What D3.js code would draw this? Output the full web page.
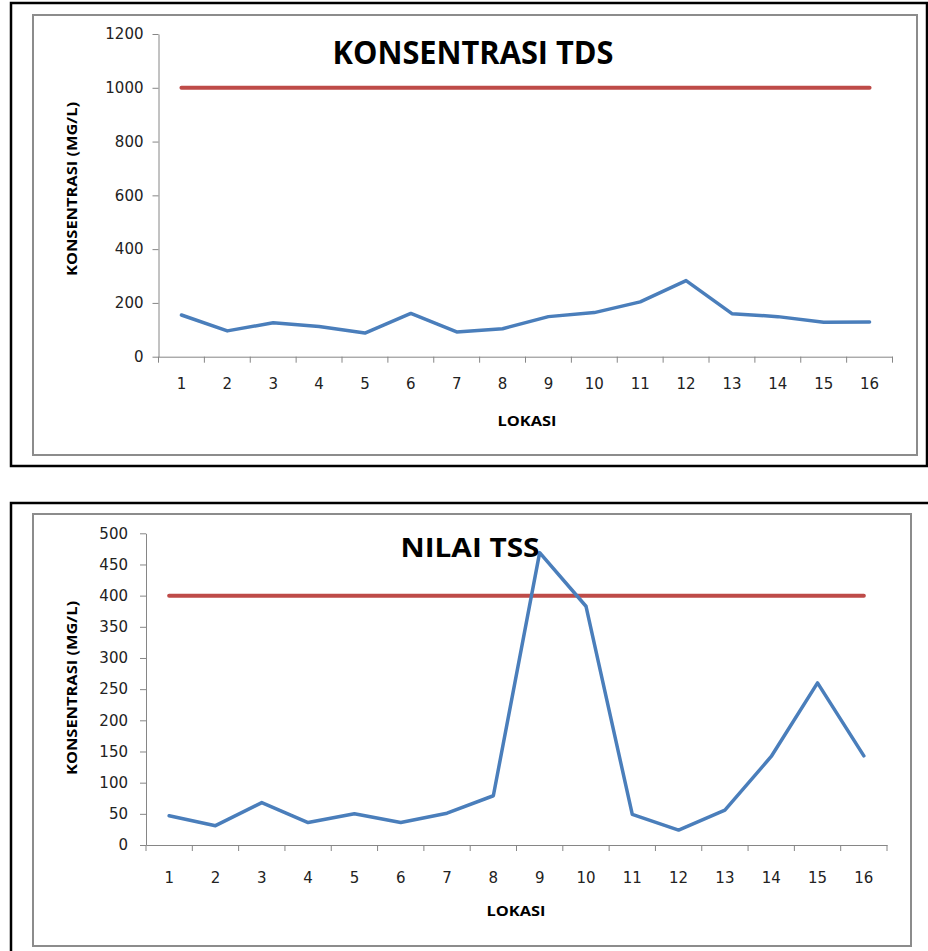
<!DOCTYPE html>
<html>
<head>
<meta charset="utf-8">
<script src="https://cdn.jsdelivr.net/npm/d3@7"></script>
<style>
  html, body { margin: 0; padding: 0; background: #fff; }
  svg { display: block; }
</style>
</head>
<body>
<svg id="chart" width="928" height="951"></svg>
<script>
// Sampling locations (x categories)
const lokasi = ["1","2","3","4","5","6","7","8","9","10","11","12","13","14","15","16"];

// TDS concentration (mg/L) per location, and the quality standard line
const tdsValues = [155, 96, 126, 112, 88, 161, 92, 104, 149, 164, 204, 283, 160, 149, 128, 129];
const tdsBakuMutu = [1000,1000,1000,1000,1000,1000,1000,1000,1000,1000,1000,1000,1000,1000,1000,1000];
const tdsTicks = [0, 200, 400, 600, 800, 1000, 1200];

// TSS value (mg/L) per location, and the quality standard line
const tssValues = [47, 31, 68, 36, 50, 36, 51, 79, 469, 383, 49, 24, 56, 142, 260, 143];
const tssBakuMutu = [400,400,400,400,400,400,400,400,400,400,400,400,400,400,400,400];
const tssTicks = [0, 50, 100, 150, 200, 250, 300, 350, 400, 450, 500];

const svg = d3.select("#chart");
const BLUE = "#4a7ebb";
const RED = "#be4b48";
const AXIS = "#868686";
const TICK_FONT = "DejaVu Sans, sans-serif";
const BOLD_FONT = "'Open Sans', Arial, sans-serif";

function drawPanel(cfg) {
  const g = svg.append("g");

  // outer black frame and inner gray chart-area frame
  g.append("rect")
    .attr("x", cfg.outer[0]).attr("y", cfg.outer[1])
    .attr("width", cfg.outer[2]).attr("height", cfg.outer[3])
    .attr("fill", "none").attr("stroke", "#000").attr("stroke-width", 2.5);
  g.append("rect")
    .attr("x", cfg.inner[0]).attr("y", cfg.inner[1])
    .attr("width", cfg.inner[2]).attr("height", cfg.inner[3])
    .attr("fill", "#fff").attr("stroke", "#8c8c8c").attr("stroke-width", 2);

  const x = d3.scaleBand().domain(lokasi).range([cfg.x0, cfg.x1]).padding(0);
  const y = d3.scaleLinear().domain([0, cfg.yMax]).range([cfg.y0, cfg.y1]);
  const cx = d => x(d) + x.bandwidth() / 2;

  // y axis
  const yAxis = g.append("g")
    .attr("transform", `translate(${cfg.x0},0)`)
    .call(d3.axisLeft(y).tickValues(cfg.ticks).tickFormat(d3.format("d"))
      .tickSize(6).tickPadding(cfg.yPad).tickSizeOuter(0));
  yAxis.select(".domain").attr("stroke", AXIS);
  yAxis.selectAll(".tick line").attr("stroke", AXIS);
  yAxis.selectAll(".tick text")
    .attr("font-family", TICK_FONT).attr("font-size", 15).attr("fill", "#222");

  // x axis: labels centred in each band, tick marks on the band edges
  const xAxis = g.append("g")
    .attr("transform", `translate(0,${cfg.y0})`)
    .call(d3.axisBottom(x).tickSize(0).tickPadding(cfg.xPad));
  xAxis.select(".domain").attr("stroke", AXIS);
  xAxis.selectAll(".tick text")
    .attr("font-family", TICK_FONT).attr("font-size", 15).attr("fill", "#222");
  const edges = lokasi.map(d => x(d)).concat([cfg.x1]);
  g.append("g").selectAll("line").data(edges).join("line")
    .attr("x1", d => d).attr("x2", d => d)
    .attr("y1", cfg.y0).attr("y2", cfg.y0 + 6)
    .attr("stroke", AXIS);

  const line = d3.line().x((d, i) => cx(lokasi[i])).y(d => y(d));

  // standard (limit) line
  g.append("path").datum(cfg.limit)
    .attr("d", line).attr("fill", "none")
    .attr("stroke", RED).attr("stroke-width", 4).attr("stroke-linecap", "round");

  // measured values
  g.append("path").datum(cfg.values)
    .attr("d", line).attr("fill", "none")
    .attr("stroke", BLUE).attr("stroke-width", 3.5)
    .attr("stroke-linejoin", "round").attr("stroke-linecap", "round");

  // titles
  g.append("text")
    .attr("x", cfg.title.x).attr("y", cfg.title.y)
    .attr("text-anchor", "middle")
    .attr("font-family", BOLD_FONT).attr("font-weight", 700)
    .attr("font-size", cfg.title.size).attr("fill", "#000")
    .attr("textLength", cfg.title.len).attr("lengthAdjust", "spacingAndGlyphs")
    .text(cfg.title.text);

  g.append("text")
    .attr("x", cfg.xTitle.x).attr("y", cfg.xTitle.y)
    .attr("text-anchor", "middle")
    .attr("font-family", BOLD_FONT).attr("font-weight", 700)
    .attr("font-size", 15).attr("fill", "#000")
    .attr("textLength", 59).attr("lengthAdjust", "spacingAndGlyphs")
    .text("LOKASI");

  g.append("text")
    .attr("transform", `translate(${cfg.yTitle.x},${cfg.yTitle.y}) rotate(-90)`)
    .attr("text-anchor", "middle")
    .attr("font-family", BOLD_FONT).attr("font-weight", 700)
    .attr("font-size", 14).attr("fill", "#000")
    .attr("textLength", 174).attr("lengthAdjust", "spacingAndGlyphs")
    .text("KONSENTRASI (MG/L)");
}

drawPanel({
  outer: [11, 3, 916, 463],
  inner: [33, 15, 884, 440],
  x0: 158.5, x1: 892.5, y0: 356.7, y1: 34, yMax: 1200,
  ticks: tdsTicks, yPad: 9, xPad: 22,
  values: tdsValues, limit: tdsBakuMutu,
  title: { text: "KONSENTRASI TDS", x: 473, y: 64, size: 32, len: 281 },
  xTitle: { x: 527, y: 426 },
  yTitle: { x: 77, y: 189 }
});

drawPanel({
  outer: [11, 503, 930, 460],
  inner: [33, 514, 878, 432],
  x0: 146, x1: 887, y0: 845, y1: 533.3, yMax: 500,
  ticks: tssTicks, yPad: 12, xPad: 27,
  values: tssValues, limit: tssBakuMutu,
  title: { text: "NILAI TSS", x: 470, y: 557, size: 27, len: 139 },
  xTitle: { x: 516, y: 916 },
  yTitle: { x: 77, y: 688 }
});
</script>
</body>
</html>
